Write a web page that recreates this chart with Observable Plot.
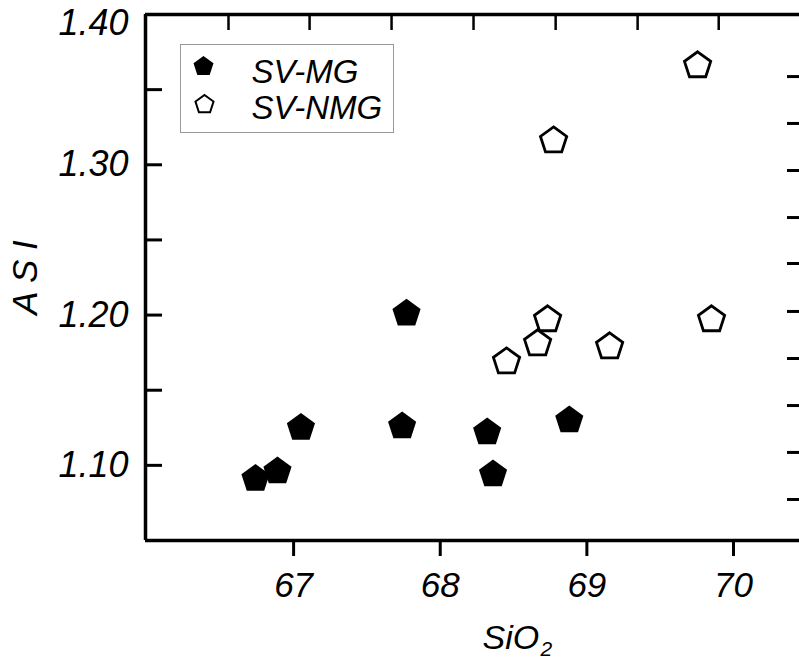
<!DOCTYPE html>
<html><head><meta charset="utf-8">
<script src="https://cdn.jsdelivr.net/npm/d3@7"></script>
<script src="https://cdn.jsdelivr.net/npm/@observablehq/plot@0.6"></script>
<style>body{margin:0;background:#fff}</style>
</head><body><div id="chart"></div>
<script>
// Data
const mgSiO2 = [66.74, 66.89, 67.05, 67.74, 67.77, 68.32, 68.36, 68.88];
const mgASI  = [1.091, 1.096, 1.125, 1.126, 1.201, 1.122, 1.094, 1.130];
const nmgSiO2 = [69.755, 68.773, 68.732, 68.664, 69.85, 68.452, 69.155];
const nmgASI  = [1.366, 1.316, 1.197, 1.181, 1.197, 1.169, 1.179];
const seriesNames = ["SV-MG", "SV-NMG"];
const xTickValues = [67, 68, 69, 70];
const yLabelValues = [1.10, 1.20, 1.30];
const yTopLabel = [1.40];
const yTickValues = [1.10, 1.15, 1.20, 1.25, 1.30, 1.35];
const topTickValues = [66.556, 67.109, 67.668, 68.227, 68.787, 69.346, 69.899];
const rightTickValues = [1.3587, 1.3275, 1.2962, 1.2649, 1.2343, 1.2024, 1.1711, 1.1398, 1.1086, 1.0773];
const xDomain = [65.99, 70.45];
const yDomain = [1.05, 1.40];

const mg = mgSiO2.map((x, i) => ({x, y: mgASI[i]}));
const nmg = nmgSiO2.map((x, i) => ({x, y: nmgASI[i]}));

const pentagon = {
  draw(ctx, size) {
    const R = Math.sqrt(size / Math.PI);
    for (let k = 0; k < 5; k++) {
      const a = -Math.PI / 2 + k * 2 * Math.PI / 5;
      const px = R * Math.cos(a), py = R * Math.sin(a);
      if (k === 0) ctx.moveTo(px, py); else ctx.lineTo(px, py);
    }
    ctx.closePath();
  }
};

const W = 799, H = 662, ML = 145, MR = 0, MT = 14, MB = 122;
const FW = W - ML - MR, FH = H - MT - MB;
const font = "'Liberation Sans', Arial, Helvetica, sans-serif";

const chart = Plot.plot({
  width: W, height: H,
  marginLeft: ML, marginRight: MR, marginTop: MT, marginBottom: MB,
  style: {fontFamily: font, fontStyle: "italic", fontSize: "35px", color: "black", background: "white", overflow: "visible"},
  x: {domain: xDomain, label: null},
  y: {domain: yDomain, label: null},
  marks: [
    // frame lines
    Plot.ruleX([xDomain[0]], {strokeWidth: 3.5}),
    Plot.ruleY([yDomain[0]], {strokeWidth: 3.5}),
    Plot.ruleY([yDomain[1]], {strokeWidth: 3.5}),
    // inward ticks
    Plot.tickY(yTickValues, {y: d => d, insetRight: FW - 17, strokeWidth: 3}),
    Plot.tickY(rightTickValues, {y: d => d, insetLeft: FW - 12, strokeWidth: 3}),
    Plot.tickX(topTickValues, {x: d => d, insetBottom: FH - 16, strokeWidth: 2.5}),
    // axes
    Plot.axisX({ticks: xTickValues, tickSize: 16, tickPadding: 16, strokeWidth: 3, tickFormat: d => String(d), fontSize: 35, label: null}),
    Plot.axisY({ticks: yLabelValues, tickSize: 0, tickPadding: 17, tickFormat: d3.format(".2f"), fontSize: 36, label: null}),
    Plot.axisY({ticks: yTopLabel, tickSize: 0, tickPadding: 17, tickFormat: d3.format(".2f"), fontSize: 36, dy: 9, label: null}),
    // axis titles
    Plot.text(["A S I"], {frameAnchor: "left", textAnchor: "middle", lineAnchor: "middle", rotate: -90, dx: -120, fontSize: 35, text: d => d}),
    Plot.text(["SiO"], {frameAnchor: "bottom", textAnchor: "start", lineAnchor: "middle", dx: 10, dy: 98, fontSize: 34, text: d => d}),
    Plot.text(["2"], {frameAnchor: "bottom", textAnchor: "start", lineAnchor: "middle", dx: 68, dy: 109, fontSize: 21, text: d => d}),
    // data
    Plot.dot(mg, {x: "x", y: "y", symbol: pentagon, r: 14.8, fill: "black", stroke: "none"}),
    Plot.dot(nmg, {x: "x", y: "y", symbol: pentagon, r: 13.8, fill: "white", stroke: "black", strokeWidth: 2.8}),
    // legend
    Plot.frame({insetLeft: 35, insetTop: 30, insetRight: FW - (393 - ML), insetBottom: FH - (132 - MT), stroke: "#999", strokeWidth: 1}),
    Plot.dot([seriesNames[0]], {frameAnchor: "top-left", dx: 58, dy: 52, symbol: pentagon, r: 10.5, fill: "black", stroke: "none"}),
    Plot.dot([seriesNames[1]], {frameAnchor: "top-left", dx: 59, dy: 90, symbol: pentagon, r: 9.5, fill: "white", stroke: "black", strokeWidth: 2}),
    Plot.text([seriesNames[0]], {frameAnchor: "top-left", textAnchor: "start", lineAnchor: "middle", dx: 106, dy: 58, fontSize: 33, text: d => d}),
    Plot.text([seriesNames[1]], {frameAnchor: "top-left", textAnchor: "start", lineAnchor: "middle", dx: 106, dy: 94, fontSize: 33, text: d => d})
  ]
});
document.getElementById("chart").appendChild(chart);
</script>
</body></html>
